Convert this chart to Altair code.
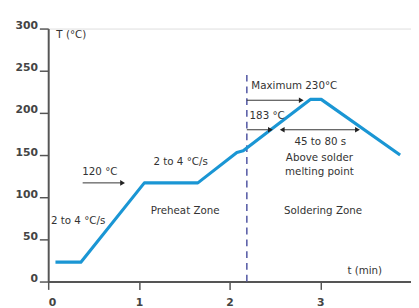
import altair as alt
import pandas as pd

# Reflow profile curve
curve_t = [0.08, 0.36, 1.06, 1.65, 2.08, 2.15, 2.89, 3.01, 3.88]
curve_T = [23, 23, 117, 117, 153, 155, 216, 216, 150]

# Dashed zone separator
sep_t = [2.19]
sep_T0 = [0]
sep_T1 = [245]

# Single arrows (shaft)
arrow_t0 = [0.38, 2.19, 2.19, 2.58]
arrow_t1 = [0.82, 2.79, 2.45, 3.41]
arrow_T = [117, 215, 180, 180]

# Arrow heads
head_t = [0.82, 2.79, 2.45, 2.58, 3.41]
head_T = [117, 215, 180, 180, 180]
head_shape = ["triangle-right", "triangle-right", "triangle-right", "triangle-left", "triangle-right"]

# Text labels (centered)
ctext = ["2 to 4 °C/s", "120 °C", "2 to 4 °C/s", "Preheat Zone", "Soldering Zone",
         "45 to 80 s", "Above solder", "melting point", "t (min)"]
ctext_t = [0.33, 0.57, 1.46, 1.51, 3.03, 3.0, 2.99, 2.99, 3.49]
ctext_T = [72, 130, 142, 84, 83, 165, 146, 130, 13]

# Text labels (left aligned)
ltext = ["T (°C)", "Maximum 230°C", "183 °C"]
ltext_t = [0.09, 2.24, 2.22]
ltext_T = [292, 232, 196]

x_ticks = [0, 1, 2, 3]
y_ticks = [0, 50, 100, 150, 200, 250, 300]

FONT = "DejaVu Sans"
AX = "#555555"

xs = alt.Scale(domain=[0, 4], nice=False)
ys = alt.Scale(domain=[0, 300], nice=False)

x_axis = alt.Axis(values=x_ticks, format="d", title=None, grid=False, tickSize=8, labelPadding=7,
                  domainColor=AX, domainWidth=2, tickColor=AX, tickWidth=1.5,
                  labelFont=FONT, labelFontSize=11, labelFontWeight="bold", labelColor="#444444")
y_axis = alt.Axis(values=y_ticks, format="d", title=None, grid=False, tickSize=9, labelPadding=2,
                  domainColor=AX, domainWidth=2, tickColor=AX, tickWidth=1.5, labelOffset=-3,
                  labelFont=FONT, labelFontSize=11, labelFontWeight="bold", labelColor="#444444")

curve = pd.DataFrame({"t": curve_t, "T": curve_T})
line = alt.Chart(curve).mark_line(color="#1a96d4", strokeWidth=3.2, strokeJoin="round").encode(
    x=alt.X("t:Q", scale=xs, axis=x_axis),
    y=alt.Y("T:Q", scale=ys, axis=y_axis),
)

sep = pd.DataFrame({"t": sep_t, "T0": sep_T0, "T1": sep_T1})
sep_rule = alt.Chart(sep).mark_rule(color="#5a5fa8", strokeWidth=1.6, strokeDash=[7, 5]).encode(
    x=alt.X("t:Q", scale=xs), y=alt.Y("T0:Q", scale=ys), y2="T1:Q"
)

arr = pd.DataFrame({"t0": arrow_t0, "t1": arrow_t1, "T": arrow_T})
arr_rule = alt.Chart(arr).mark_rule(color="#333333", strokeWidth=1).encode(
    x=alt.X("t0:Q", scale=xs), x2="t1:Q", y=alt.Y("T:Q", scale=ys)
)

heads = pd.DataFrame({"t": head_t, "T": head_T, "s": head_shape})
head_pts = alt.Chart(heads).mark_point(filled=True, color="#222222", size=32, opacity=1).encode(
    x=alt.X("t:Q", scale=xs), y=alt.Y("T:Q", scale=ys),
    shape=alt.Shape("s:N", scale=None, legend=None),
)

cdf = pd.DataFrame({"txt": ctext, "t": ctext_t, "T": ctext_T})
ctxt = alt.Chart(cdf).mark_text(font=FONT, fontSize=10.5, color="#333333", align="center",
                                baseline="middle").encode(
    x=alt.X("t:Q", scale=xs), y=alt.Y("T:Q", scale=ys), text="txt:N"
)

ldf = pd.DataFrame({"txt": ltext, "t": ltext_t, "T": ltext_T})
ltxt = alt.Chart(ldf).mark_text(font=FONT, fontSize=10.5, color="#333333", align="left",
                                baseline="middle").encode(
    x=alt.X("t:Q", scale=xs), y=alt.Y("T:Q", scale=ys), text="txt:N"
)

chart = alt.layer(sep_rule, line, arr_rule, head_pts, ctxt, ltxt).properties(
    width=370, height=258,
    autosize=alt.AutoSizeParams(type="none"),
    padding={"left": 41, "top": 18, "right": 0, "bottom": 24},
).configure_view(stroke=None).configure(background="white")

chart.save("out.html", embed_options={"renderer": "svg", "actions": False})
